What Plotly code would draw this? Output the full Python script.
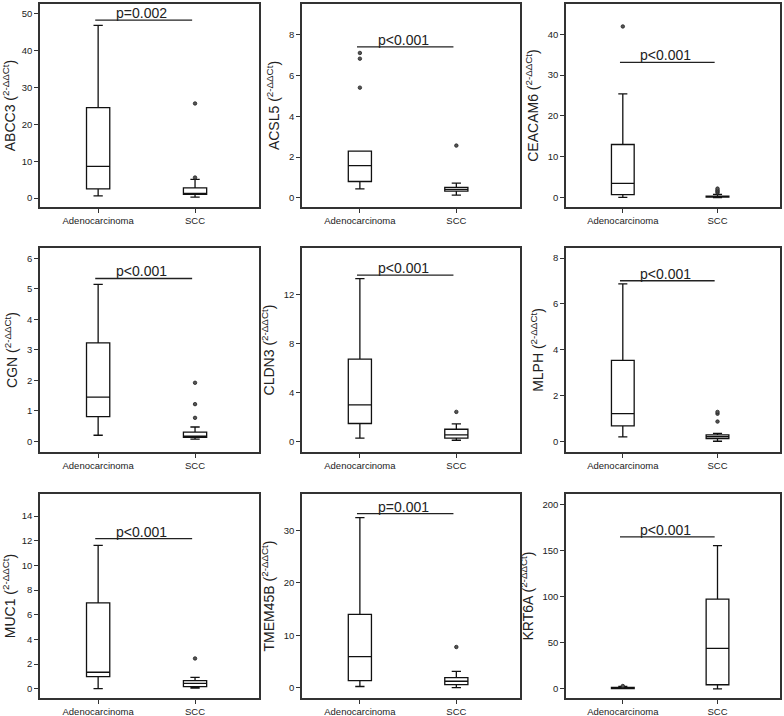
import plotly.graph_objects as go

genes = ["ABCC3", "ACSL5", "CEACAM6", "CGN", "CLDN3", "MLPH", "MUC1", "TMEM45B", "KRT6A"]
groups = ["Adenocarcinoma", "SCC"]
p_labels = ["p=0.002", "p<0.001", "p<0.001", "p<0.001", "p<0.001", "p<0.001", "p<0.001", "p=0.001", "p<0.001"]

# Adenocarcinoma box statistics
adeno_low = [0.6, 0.44, 0.05, 0.2, 0.25, 0.19, 0.0, 0.2, 0.1]
adeno_q1 = [2.5, 0.80, 0.73, 0.81, 1.45, 0.67, 0.98, 1.33, 0.3]
adeno_med = [8.6, 1.58, 3.5, 1.45, 2.98, 1.21, 1.33, 5.9, 0.8]
adeno_q3 = [24.6, 2.29, 13.0, 3.23, 6.72, 3.53, 6.96, 14.0, 1.5]
adeno_high = [46.9, 2.29, 25.4, 5.15, 13.3, 6.87, 11.63, 32.5, 2.5]
adeno_out = [[], [5.4, 6.82, 7.1], [41.9], [], [], [], [], [], [3.0]]

# SCC box statistics
scc_low = [0.3, 0.13, 0.0, 0.07, 0.08, 0.0, 0.05, 0.0, 0.0]
scc_q1 = [1.0, 0.33, 0.1, 0.13, 0.25, 0.12, 0.16, 0.57, 4.4]
scc_med = [1.2, 0.41, 0.2, 0.17, 0.52, 0.20, 0.43, 1.2, 44.0]
scc_q3 = [2.8, 0.51, 0.35, 0.30, 0.98, 0.28, 0.65, 1.9, 97.5]
scc_high = [5.1, 0.72, 0.8, 0.47, 1.42, 0.34, 0.92, 3.1, 155.6]
scc_out = [[5.6, 25.7], [2.56], [1.2, 1.5, 1.8, 2.2], [0.77, 1.22, 1.92], [2.4], [0.86, 1.2, 1.28], [2.45], [7.75], []]

# significance bar heights
sig_y = [48.3, 7.4, 33.1, 5.34, 13.58, 7.01, 12.17, 33.25, 165.1]

# y-axis ticks
y_dtick = [10, 2, 10, 1, 4, 2, 2, 10, 50]
y_tmax = [50, 8, 40, 6, 12, 8, 14, 30, 200]

# layout geometry (pixels)
W, H = 784, 716
y_ranges = [[-2.4, 52.7], [-0.45, 9.5], [-2.3, 47.4], [-0.35, 6.34], [-0.88, 15.8],
            [-0.47, 8.44], [-0.76, 15.8], [-2.0, 37.0], [-10, 211.7]]
col_l = [40, 302, 566]
col_r = [259, 520, 780]
row_t = [4, 248, 494]
row_b = [207, 452, 698]

fig = go.Figure()
font_family = "Liberation Sans, Arial, sans-serif"
layout = dict(
    width=W, height=H, margin=dict(l=0, r=0, t=0, b=0),
    paper_bgcolor="white", plot_bgcolor="white", showlegend=False,
    font=dict(family=font_family, color="#222"),
)
annotations = []

for i, g in enumerate(genes):
    r, c = divmod(i, 3)
    n = "" if i == 0 else str(i + 1)
    xa, ya = "x" + n, "y" + n
    xdom = [col_l[c] / W, col_r[c] / W]
    ydom = [1 - row_b[r] / H, 1 - row_t[r] / H]
    layout["xaxis" + n] = dict(
        domain=xdom, anchor=ya, range=[-0.6, 1.66], tickvals=[0, 1], ticktext=groups,
        showline=True, linecolor="#333", linewidth=1.5, mirror=True, ticks="outside",
        ticklen=4, tickcolor="#333", showgrid=False, zeroline=False,
        tickfont=dict(size=9.5, color="#222"),
    )
    tv = list(range(0, y_tmax[i] + 1, y_dtick[i]))
    layout["yaxis" + n] = dict(
        domain=ydom, anchor=xa, range=y_ranges[i], tickvals=tv,
        showline=True, linecolor="#333", linewidth=1.5, mirror=True, ticks="outside",
        ticklen=4, tickcolor="#333", showgrid=False, zeroline=False,
        tickfont=dict(size=9.5, color="#222"),
        title=dict(text=f"{g} (<sup>2-ΔΔCt</sup>)", font=dict(size=14, color="#222"), standoff=6),
    )
    stats = [
        (adeno_low[i], adeno_q1[i], adeno_med[i], adeno_q3[i], adeno_high[i], adeno_out[i]),
        (scc_low[i], scc_q1[i], scc_med[i], scc_q3[i], scc_high[i], scc_out[i]),
    ]
    for k, (lo, q1, md, q3, hi, out) in enumerate(stats):
        fig.add_trace(go.Box(
            x=[k], q1=[q1], median=[md], q3=[q3], lowerfence=[lo], upperfence=[hi],
            width=0.24, whiskerwidth=0.4, fillcolor="white",
            line=dict(color="#111", width=1.3), boxpoints=False,
            xaxis=xa, yaxis=ya, hoverinfo="skip",
        ))
        if out:
            fig.add_trace(go.Scatter(
                x=[k] * len(out), y=out, mode="markers",
                marker=dict(symbol="circle", size=3.5, color="#555",
                            line=dict(color="#222", width=0.8)),
                xaxis=xa, yaxis=ya, hoverinfo="skip",
            ))
    fig.add_trace(go.Scatter(
        x=[-0.03, 0.97], y=[sig_y[i], sig_y[i]], mode="lines",
        line=dict(color="#222", width=1.3), xaxis=xa, yaxis=ya, hoverinfo="skip",
    ))
    annotations.append(dict(
        x=0.45, y=sig_y[i], xref=xa, yref=ya, text=p_labels[i], showarrow=False,
        yanchor="bottom", yshift=-3, font=dict(size=14, color="#222"),
    ))

layout["annotations"] = annotations
fig.update_layout(**layout)
fig.write_html(
    "out.html",
    config={"displayModeBar": False},
    post_script="document.body.style.margin='0';document.body.style.overflow='hidden';",
)
